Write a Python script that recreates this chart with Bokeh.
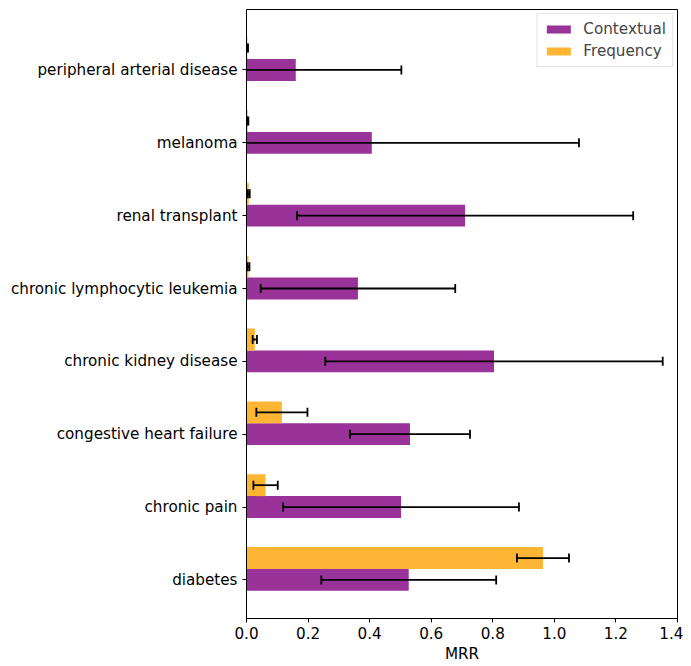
from bokeh.plotting import figure
from bokeh.models import ColumnDataSource, FixedTicker, PrintfTickFormatter, Range1d, Legend, LegendItem
from bokeh.embed import file_html
from bokeh.resources import INLINE

categories = ["diabetes", "chronic pain", "congestive heart failure", "chronic kidney disease",
              "chronic lymphocytic leukemia", "renal transplant", "melanoma", "peripheral arterial disease"]
ctx_mrr = [0.527, 0.502, 0.531, 0.804, 0.362, 0.710, 0.407, 0.160]
ctx_err = [0.284, 0.383, 0.195, 0.548, 0.316, 0.546, 0.673, 0.343]
freq_mrr = [0.963, 0.062, 0.115, 0.027, 0.0065, 0.0075, 0.004, 0.003]
freq_err = [0.0845, 0.0395, 0.083, 0.007, 0.003, 0.003, 0.002, 0.002]
x_ticks = [0.0, 0.2, 0.4, 0.6, 0.8, 1.0, 1.2, 1.4]

PURPLE = "#993399"
ORANGE = "#FFB534"
FONT = "DejaVu Sans"
FS = "15.2px"
BAR_H = 0.3

n = len(categories)
pos = list(range(n))
ctx_src = ColumnDataSource(dict(
    y=pos, v=ctx_mrr,
    lo=[m - e for m, e in zip(ctx_mrr, ctx_err)],
    hi=[m + e for m, e in zip(ctx_mrr, ctx_err)]))
freq_src = ColumnDataSource(dict(
    y=[i + BAR_H for i in pos], v=freq_mrr,
    lo=[m - e for m, e in zip(freq_mrr, freq_err)],
    hi=[m + e for m, e in zip(freq_mrr, freq_err)]))

p = figure(width=683, height=666, output_backend="svg", toolbar_location=None,
           x_range=Range1d(0, 1.4), y_range=Range1d(-0.53, 7.83),
           min_border_left=246, min_border_right=6, min_border_top=9, min_border_bottom=48)

r1 = p.hbar(y="y", right="v", left=0, height=BAR_H, source=ctx_src, color=PURPLE, line_color=None)
r2 = p.hbar(y="y", right="v", left=0, height=BAR_H, source=freq_src, color=ORANGE, line_color=None)

for src in (ctx_src, freq_src):
    p.segment(x0="lo", y0="y", x1="hi", y1="y", source=src, line_color="black", line_width=1.8)
    p.scatter(x="lo", y="y", source=src, marker="dash", angle=1.5708, size=9,
              line_color="black", line_width=1.8)
    p.scatter(x="hi", y="y", source=src, marker="dash", angle=1.5708, size=9,
              line_color="black", line_width=1.8)

legend = Legend(items=[LegendItem(label="Contextual", renderers=[r1]),
                       LegendItem(label="Frequency", renderers=[r2])],
                location="top_right", label_text_font=FONT, label_text_font_size=FS,
                border_line_color="#cccccc", border_line_width=1, background_fill_alpha=0.8,
                glyph_width=30, glyph_height=10, label_standoff=10, spacing=4,
                padding=6, margin=4)
p.add_layout(legend)

p.grid.visible = False
p.outline_line_color = "black"
p.outline_line_width = 1
p.outline_line_alpha = 1

p.xaxis.ticker = FixedTicker(ticks=x_ticks)
p.xaxis.formatter = PrintfTickFormatter(format="%.1f")
p.xaxis.axis_label = "MRR"
p.xaxis.axis_label_text_font_style = "normal"
p.xaxis.axis_label_text_font = FONT
p.xaxis.axis_label_text_font_size = FS
p.xaxis.axis_label_text_color = "black"
p.xaxis.axis_label_standoff = 3

p.yaxis.ticker = FixedTicker(ticks=pos)
p.yaxis.major_label_overrides = {i: c for i, c in enumerate(categories)}

for ax in (p.xaxis, p.yaxis):
    ax.major_label_text_font = FONT
    ax.major_label_text_font_size = FS
    ax.major_label_text_color = "black"
    ax.axis_line_color = "black"
    ax.major_tick_line_color = "black"
    ax.major_tick_out = 4
    ax.major_tick_in = 0
    ax.minor_tick_line_color = None
    ax.major_label_standoff = 5
p.xaxis.major_label_standoff = 4

open("out.html", "w").write(file_html(p, INLINE))
